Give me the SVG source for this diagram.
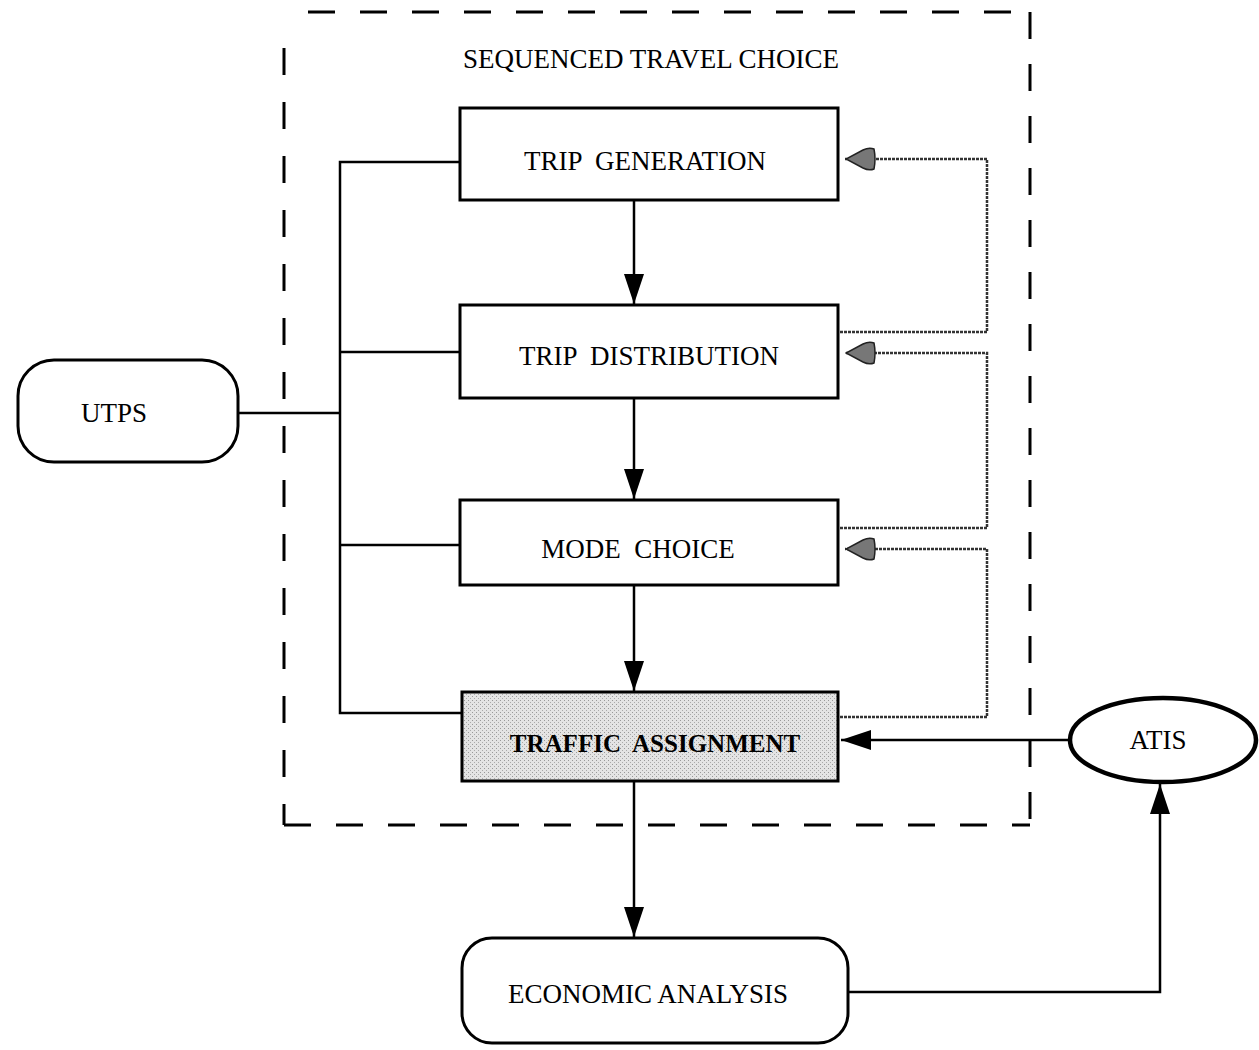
<svg xmlns="http://www.w3.org/2000/svg" width="1259" height="1050" viewBox="0 0 1259 1050">
<style>
.box{fill:#fff;stroke:#000;stroke-width:3}
.t{font-family:"Liberation Serif","Times New Roman",serif;font-size:27px;fill:#000;text-anchor:middle}
.c{fill:none;stroke:#000;stroke-width:2.5}
.fb{fill:none;stroke:#333;stroke-width:2.5;stroke-dasharray:3 1}
.dash{fill:none;stroke:#000;stroke-width:3;stroke-dasharray:27 25}
</style>
<defs>
<marker id="ah" markerWidth="30" markerHeight="20" refX="30" refY="10" orient="auto" markerUnits="userSpaceOnUse" viewBox="0 0 30 20">
<path d="M0,0 L30,10 L0,20 Z" fill="#000"/>
</marker>
<pattern id="dots" width="4" height="4" patternUnits="userSpaceOnUse">
<rect width="4" height="4" fill="#e4e4e4"/>
<rect width="1" height="1" fill="#999"/>
<rect x="2" y="2" width="1" height="1" fill="#aaa"/>
</pattern>
<marker id="gh" markerWidth="32" markerHeight="24" refX="32" refY="12" orient="auto" markerUnits="userSpaceOnUse" viewBox="0 0 32 24">
<path d="M3,2 Q8,0 14,3 L31,12 L14,21 Q8,24 3,22 Q1,12 3,2 Z" fill="#777" stroke="#222" stroke-width="1.5"/>
</marker>
</defs>
<g id="frame">
<line class="dash" x1="308" y1="12" x2="1030" y2="12"/>
<line class="dash" x1="1030" y1="12" x2="1030" y2="825"/>
<line class="dash" x1="284" y1="48" x2="284" y2="825" style="stroke-dasharray:27 27"/>
<line class="dash" x1="284" y1="825" x2="1030" y2="825"/>
<text class="t" x="651" y="68">SEQUENCED TRAVEL CHOICE</text>
</g>
<g id="connectors">
<polyline class="c" points="460,162 340,162 340,713 462,713"/>
<line class="c" x1="340" y1="352" x2="460" y2="352"/>
<line class="c" x1="340" y1="545" x2="460" y2="545"/>
<line class="c" x1="238" y1="413" x2="340" y2="413"/>
<line class="c" x1="634" y1="200" x2="634" y2="304" marker-end="url(#ah)"/>
<line class="c" x1="634" y1="398" x2="634" y2="499" marker-end="url(#ah)"/>
<line class="c" x1="634" y1="585" x2="634" y2="691" marker-end="url(#ah)"/>
<line class="c" x1="634" y1="781" x2="634" y2="937" marker-end="url(#ah)"/>
<line class="c" x1="1070" y1="740" x2="841" y2="740" marker-end="url(#ah)"/>
<polyline class="c" points="848,992 1160,992 1160,784" marker-end="url(#ah)"/>
<polyline class="fb" points="840,332 987,332 987,159 845,159" marker-end="url(#gh)"/>
<polyline class="fb" points="840,528 987,528 987,353 845,353" marker-end="url(#gh)"/>
<polyline class="fb" points="840,717 987,717 987,549 845,549" marker-end="url(#gh)"/>
</g>
<g id="trip-generation">
<rect class="box" x="460" y="108" width="378" height="92"/>
<text class="t" x="645" y="170" xml:space="preserve">TRIP  GENERATION</text>
</g>
<g id="trip-distribution">
<rect class="box" x="460" y="305" width="378" height="93"/>
<text class="t" x="649" y="365" xml:space="preserve">TRIP  DISTRIBUTION</text>
</g>
<g id="mode-choice">
<rect class="box" x="460" y="500" width="378" height="85"/>
<text class="t" x="638" y="558" xml:space="preserve">MODE  CHOICE</text>
</g>
<g id="traffic-assignment">
<rect x="462" y="692" width="376" height="89" fill="url(#dots)" stroke="#000" stroke-width="3"/>
<text class="t" x="655" y="752" style="font-weight:bold;font-size:25px" xml:space="preserve">TRAFFIC  ASSIGNMENT</text>
</g>
<g id="utps">
<rect class="box" x="18" y="360" width="220" height="102" rx="36"/>
<text class="t" x="114" y="422">UTPS</text>
</g>
<g id="atis">
<ellipse cx="1163" cy="740" rx="93" ry="42" fill="#fff" stroke="#000" stroke-width="4.5"/>
<text class="t" x="1158" y="749">ATIS</text>
</g>
<g id="economic-analysis">
<rect class="box" x="462" y="938" width="386" height="105" rx="30"/>
<text class="t" x="648" y="1003">ECONOMIC ANALYSIS</text>
</g>
</svg>
